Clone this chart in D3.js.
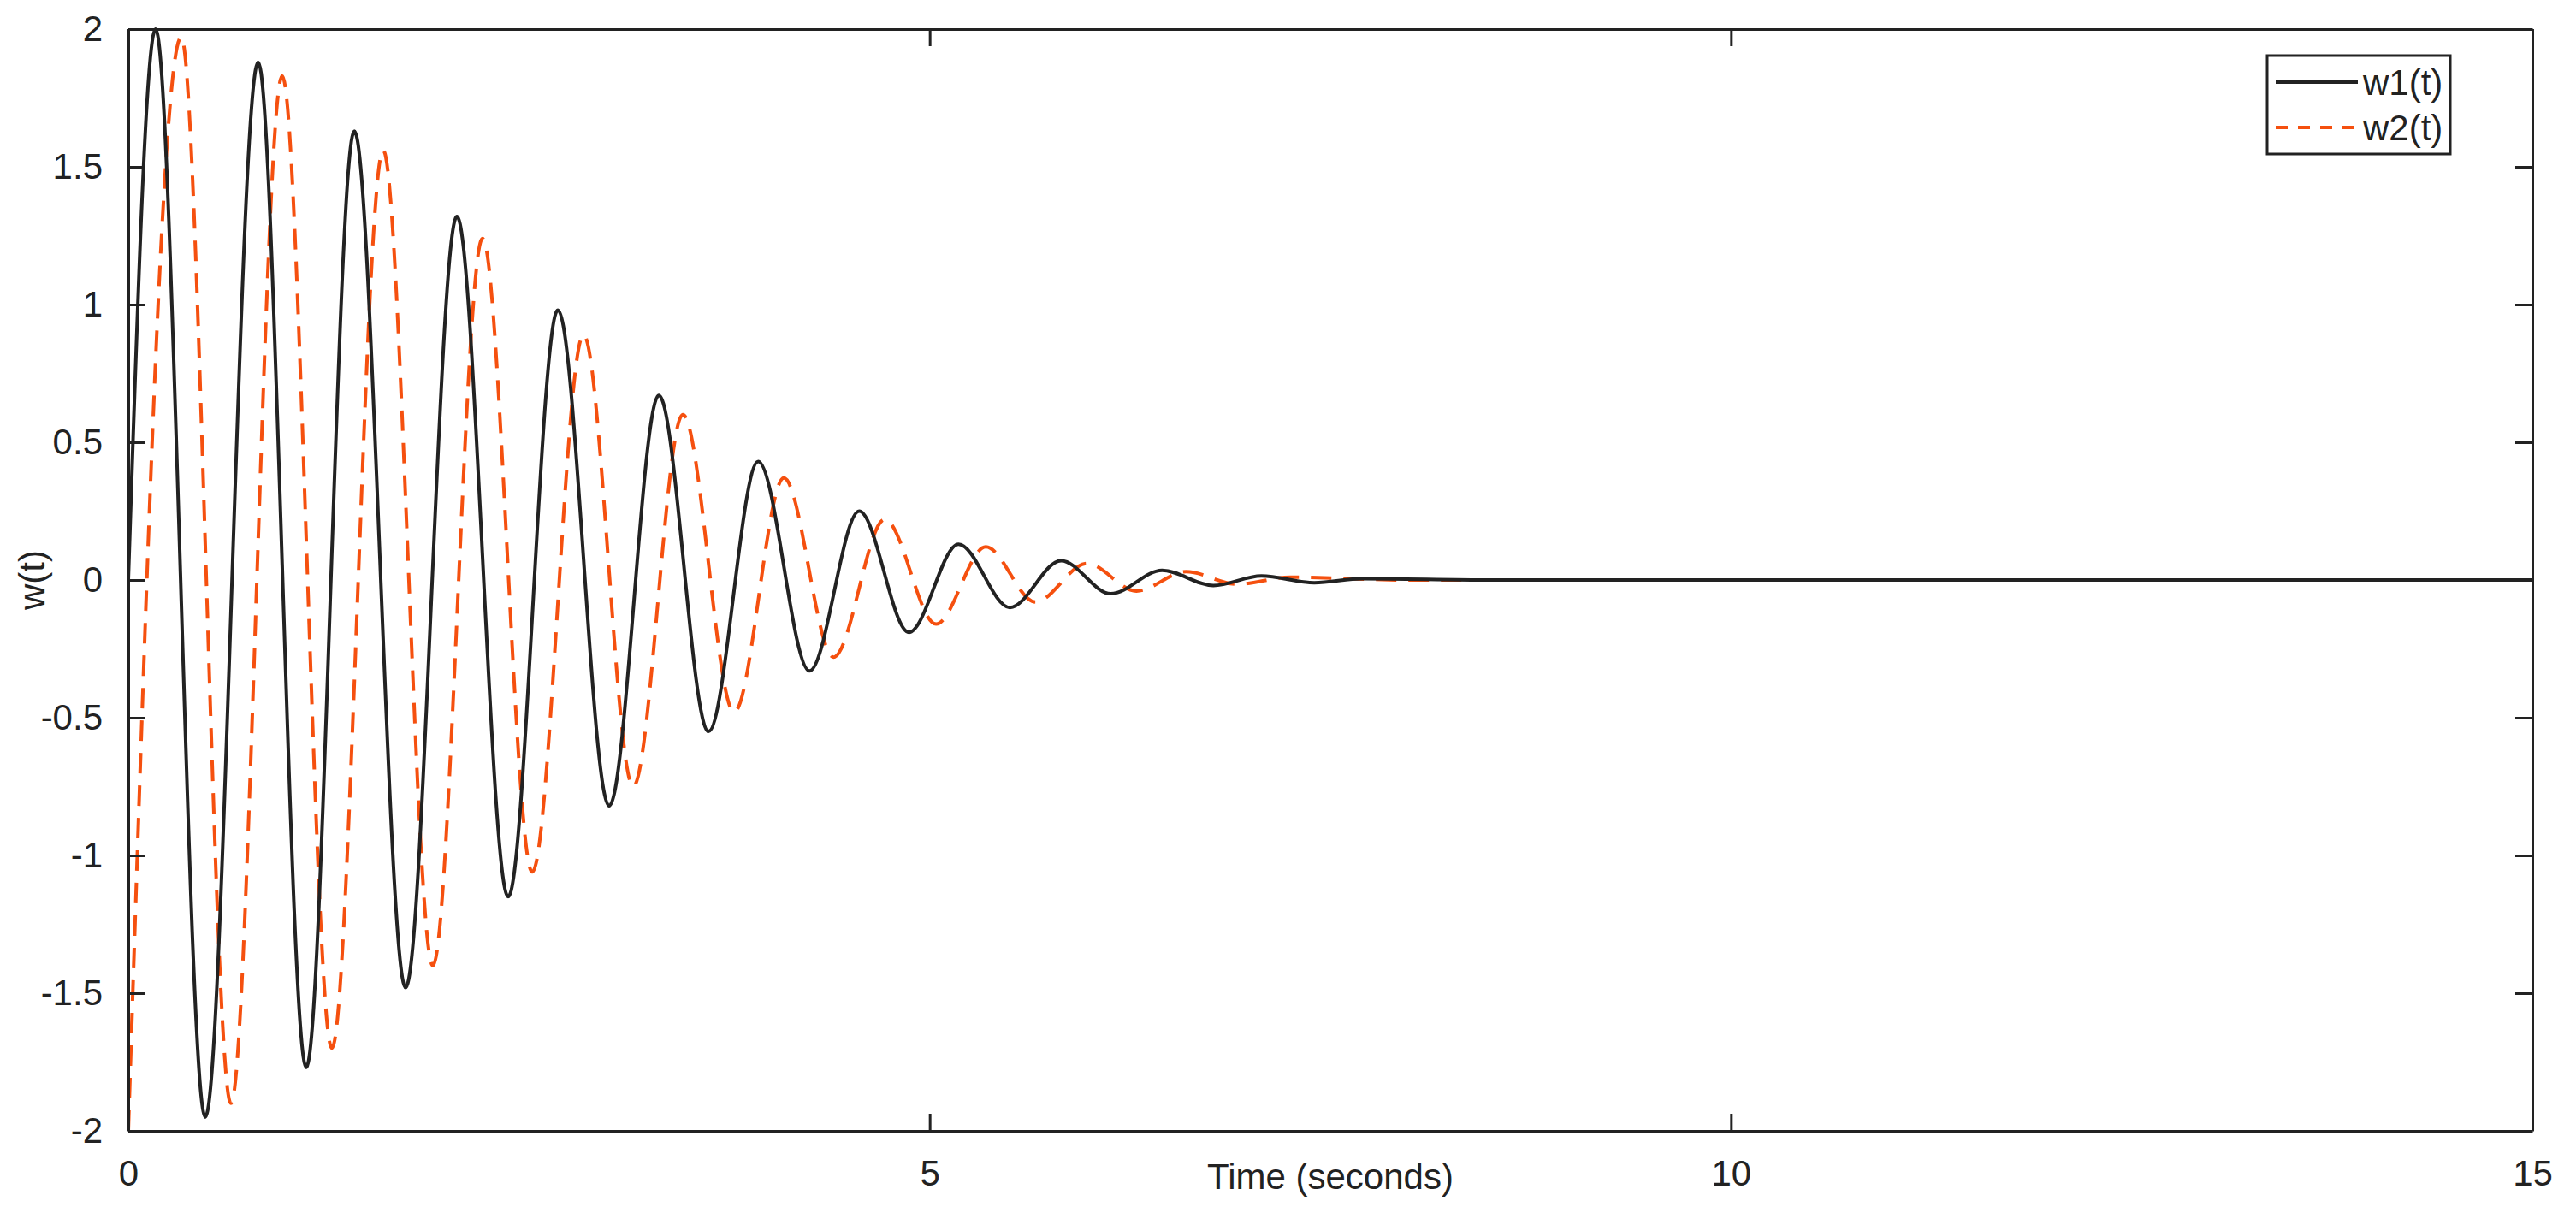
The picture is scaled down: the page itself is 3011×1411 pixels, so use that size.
<!DOCTYPE html>
<html>
<head>
<meta charset="utf-8">
<script src="https://cdn.jsdelivr.net/npm/d3@7"></script>
<style>
  body { margin: 0; background: #fff; }
  text { font-family: "Liberation Sans", Arial, sans-serif; fill: #222; }
</style>
</head>
<body>
<div id="chart"></div>
<script>
// Data: extrema (time, value) of each response
const w1Time = [0, 0.17, 0.48, 0.81, 1.11, 1.41, 1.73, 2.05, 2.37, 2.68, 3.0, 3.31, 3.62, 3.93, 4.25, 4.56, 4.87, 5.18, 5.5, 5.82, 6.13, 6.45, 6.77, 7.07, 7.4, 7.7, 8.5, 15];
const w1Vals = [0, 2.0, -1.95, 1.88, -1.77, 1.63, -1.48, 1.32, -1.15, 0.98, -0.82, 0.67, -0.55, 0.43, -0.33, 0.25, -0.19, 0.13, -0.10, 0.07, -0.05, 0.035, -0.02, 0.015, -0.01, 0.005, 0, 0];
const w2Time = [0, 0.33, 0.64, 0.96, 1.27, 1.59, 1.9, 2.21, 2.52, 2.84, 3.15, 3.46, 3.78, 4.09, 4.4, 4.72, 5.04, 5.35, 5.66, 5.98, 6.29, 6.6, 6.92, 7.25, 8.0, 15];
const w2Vals = [-2.0, 1.97, -1.9, 1.83, -1.7, 1.56, -1.4, 1.24, -1.06, 0.89, -0.75, 0.6, -0.48, 0.37, -0.28, 0.22, -0.16, 0.12, -0.08, 0.06, -0.04, 0.03, -0.015, 0.01, 0, 0];
const xTicks = [0, 5, 10, 15];
const yTicks = [-2, -1.5, -1, -0.5, 0, 0.5, 1, 1.5, 2];

const W = 3011, H = 1411;
const margin = {top: 34, right: 51, bottom: 89, left: 150};
const width = W - margin.left - margin.right,
      height = H - margin.top - margin.bottom;

const svg = d3.select("#chart").append("svg")
    .attr("width", W).attr("height", H);
const g = svg.append("g").attr("transform", `translate(${margin.left},${margin.top})`);

const x = d3.scaleLinear().domain([0, 15]).range([0, width]);
const y = d3.scaleLinear().domain([-2, 2]).range([height, 0]);

// lines
const line = d3.line().x(d => x(d[0])).y(d => y(d[1])).curve(d3.curveMonotoneX);
g.append("path")
    .datum(d3.zip(w2Time, w2Vals))
    .attr("fill", "none").attr("stroke", "#f5500f").attr("stroke-width", 4)
    .attr("stroke-dasharray", "24,14")
    .attr("d", line);
g.append("path")
    .datum(d3.zip(w1Time, w1Vals))
    .attr("fill", "none").attr("stroke", "#222").attr("stroke-width", 4)
    .attr("d", line);

// axes (matlab style box, ticks inward)
const fs = "42px";
const fmt = d => String(d);
const axStyle = sel => { sel.selectAll("path, line").attr("stroke", "#222").attr("stroke-width", 3); sel.selectAll("text").style("font-size", fs); };
g.append("g").attr("transform", `translate(0,${height})`)
    .call(d3.axisBottom(x).tickValues(xTicks).tickFormat(fmt).tickSize(-20).tickPadding(34).tickSizeOuter(0))
    .call(axStyle);
g.append("g")
    .call(d3.axisLeft(y).tickValues(yTicks).tickFormat(fmt).tickSize(-20).tickPadding(30).tickSizeOuter(0))
    .call(axStyle);
g.append("g")
    .call(d3.axisTop(x).tickValues(xTicks).tickSize(-20).tickFormat("").tickSizeOuter(0))
    .call(axStyle);
g.append("g").attr("transform", `translate(${width},0)`)
    .call(d3.axisRight(y).tickValues(yTicks).tickSize(-20).tickFormat("").tickSizeOuter(0))
    .call(axStyle);
g.selectAll(".tick text").attr("font-family", "Liberation Sans, Arial, sans-serif").attr("fill", "#222");

// axis labels
g.append("text").attr("x", x(7.5)).attr("y", height + 68)
    .attr("text-anchor", "middle").style("font-size", fs).text("Time (seconds)");
g.append("text").attr("transform", `translate(-98,${y(0)}) rotate(-90)`)
    .attr("text-anchor", "middle").style("font-size", fs).text("w(t)");

// legend
const lg = svg.append("g").attr("transform", "translate(2650,65)");
lg.append("rect").attr("width", 214).attr("height", 115)
    .attr("fill", "#fff").attr("stroke", "#222").attr("stroke-width", 3);
lg.append("line").attr("x1", 10).attr("x2", 106).attr("y1", 31).attr("y2", 31)
    .attr("stroke", "#222").attr("stroke-width", 4);
lg.append("line").attr("x1", 10).attr("x2", 106).attr("y1", 84).attr("y2", 84)
    .attr("stroke", "#f5500f").attr("stroke-width", 4).attr("stroke-dasharray", "14,12");
lg.append("text").attr("x", 112).attr("y", 46).style("font-size", fs).text("w1(t)");
lg.append("text").attr("x", 112).attr("y", 99).style("font-size", fs).text("w2(t)");
</script>
</body>
</html>
